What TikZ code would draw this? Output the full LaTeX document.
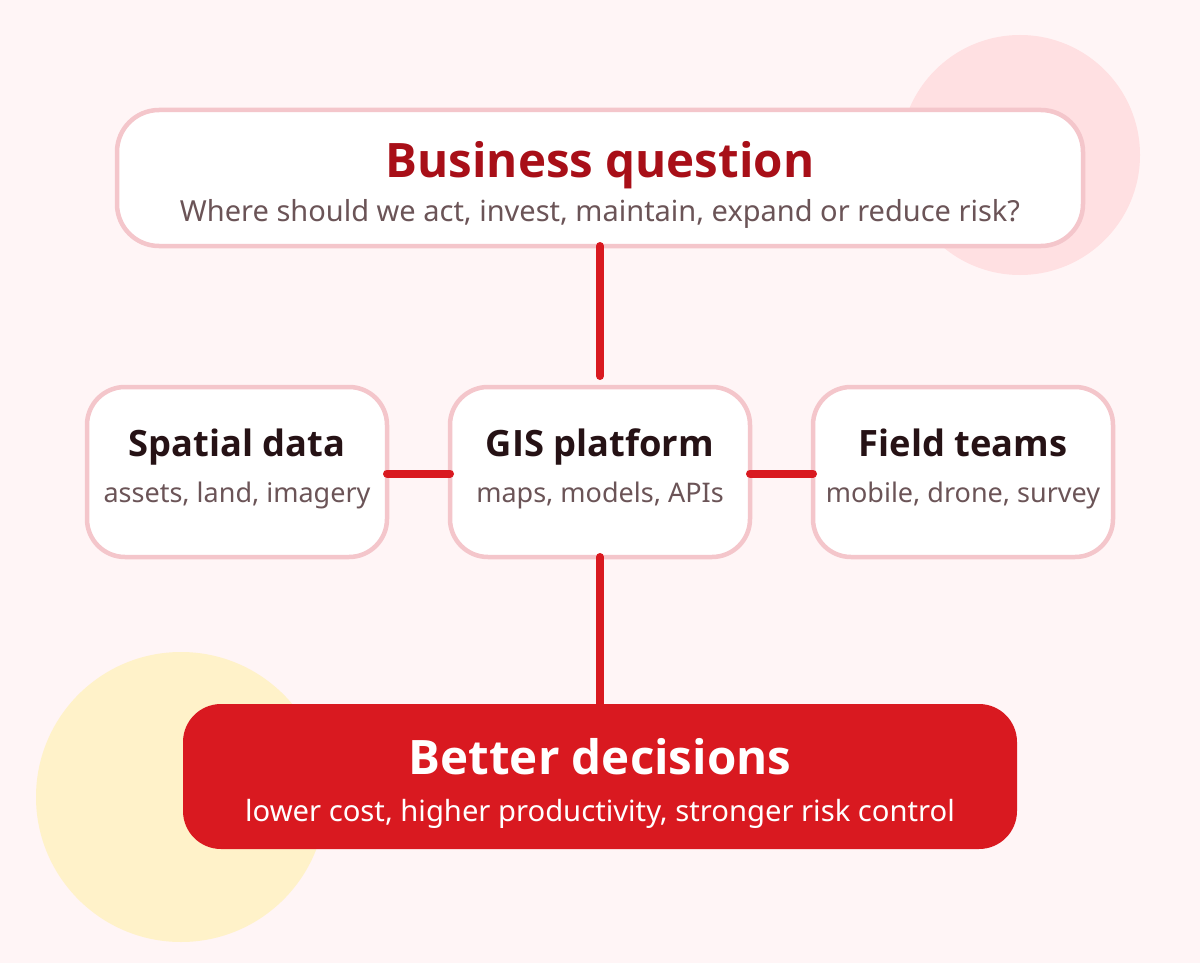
\documentclass[tikz,border=0pt]{standalone}
\usepackage{fontspec}
\setmainfont{Noto Sans}
\newfontfamily\ttlfont{Open Sans}
\definecolor{bgc}{HTML}{FFF5F6}
\definecolor{pinkc}{HTML}{FFE0E2}
\definecolor{yelc}{HTML}{FFF2C9}
\definecolor{edgec}{HTML}{F4C6CB}
\definecolor{redc}{HTML}{D91920}
\definecolor{darkred}{HTML}{A80F18}
\definecolor{inkc}{HTML}{261215}
\definecolor{subc}{HTML}{6B5457}
\tikzset{x=1pt,y=-1pt,
 card/.style={draw=edgec,fill=white,line width=4.5pt,rounded corners=38pt,inner sep=0pt},
 conn/.style={draw=redc,line width=8pt,line cap=round},
 ttl/.style={font=\ttlfont\fontsize{36.3}{36}\selectfont\bfseries,text=inkc,inner sep=0pt,anchor=base},
 sub/.style={font=\fontsize{29}{29}\selectfont,text=subc,inner sep=0pt,anchor=base}}
\begin{document}
\begin{tikzpicture}
\useasboundingbox (0,0) rectangle (1200,963);
\fill[bgc] (0,0) rectangle (1200,963);
\fill[pinkc] (1020,155) circle (120);
\fill[yelc] (181,797) circle (145);
\node[card,rounded corners=42pt,minimum width=966pt,minimum height=136pt] (q) at (600,178) {};
\node[card,minimum width=300pt,minimum height=170pt] (s) at (237,472) {};
\node[card,minimum width=300pt,minimum height=170pt] (g) at (600,472) {};
\node[card,minimum width=300pt,minimum height=170pt] (f) at (963,472) {};
\node[fill=redc,rounded corners=38pt,minimum width=834pt,minimum height=145pt,inner sep=0pt] (b) at (600,776.5) {};
\coordinate (q1) at (600,246); \coordinate (g1) at (600,376);
\coordinate (g2) at (600,557); \coordinate (b1) at (600,706);
\coordinate (s1) at (387,473.5); \coordinate (g3) at (450,473.5);
\coordinate (g4) at (750,473.5); \coordinate (f1) at (813,473.5);
\draw[conn] (q1) -- (g1);
\draw[conn] (g2) -- (b1);
\draw[conn] (s1) -- (g3);
\draw[conn] (g4) -- (f1);
\node[ttl,text=darkred,font=\ttlfont\fontsize{47.5}{48}\selectfont\bfseries] (qt) at (600,178) {Business question};
\node[sub] (qs) at (600,221) {Where should we act, invest, maintain, expand or reduce risk?};
\node[ttl] (st) at (237,456) {Spatial data};
\node[sub,font=\fontsize{27}{27}\selectfont] (ss) at (237,502) {assets, land, imagery};
\node[ttl] (gt) at (600,456) {GIS platform};
\node[sub,font=\fontsize{27}{27}\selectfont] (gs) at (600,502) {maps, models, APIs};
\node[ttl] (ft) at (963,456) {Field teams};
\node[sub,font=\fontsize{27}{27}\selectfont] (fs) at (963,502) {mobile, drone, survey};
\node[ttl,text=white,font=\ttlfont\fontsize{47.5}{48}\selectfont\bfseries] (bt) at (600,774) {Better decisions};
\node[sub,text=white,font=\fontsize{29.2}{29}\selectfont] (bs) at (600,821) {lower cost, higher productivity, stronger risk control};
\end{tikzpicture}
\end{document}
